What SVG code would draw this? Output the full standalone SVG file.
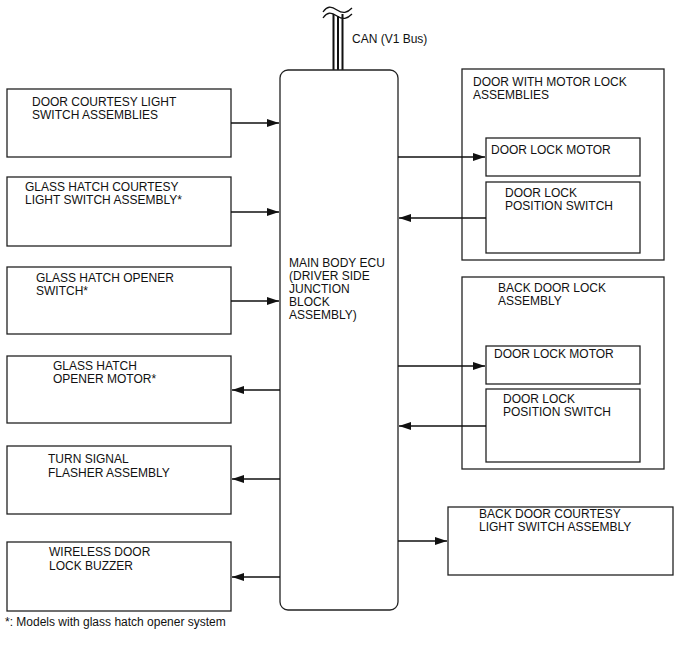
<svg xmlns="http://www.w3.org/2000/svg" width="688" height="658" viewBox="0 0 688 658">
<style>
  .box { fill: #fff; stroke: #222; stroke-width: 1.3; }
  .t { font-family: "Liberation Sans", Arial, sans-serif; font-size: 12px; fill: #111; }
  .c { stroke: #111; stroke-width: 1.3; fill: none; }
  .bus { stroke: #111; stroke-width: 2; fill: none; }
</style>
<defs>
  <marker id="ah" viewBox="0 0 12 8" refX="12" refY="4" markerWidth="12" markerHeight="8" markerUnits="userSpaceOnUse" orient="auto">
    <path d="M0,0 L12,4 L0,8 Z" fill="#111"/>
  </marker>
</defs>
<rect width="688" height="658" fill="#fff"/>

<g id="can-bus">
  <path class="bus" d="M333.5,14 V70 M338,16 V70 M342.5,14 V70"/>
  <path class="c" d="M323,12 C327,6 331,6 337,10 C343,14 347,13 352,8"/>
  <path class="c" d="M323,18 C327,12 331,12 337,16 C343,20 347,19 352,14"/>
  <text class="t" x="352" y="43">CAN (V1 Bus)</text>
</g>

<g id="main-ecu">
  <rect class="box" x="280" y="70" width="118" height="540" rx="8"/>
  <text class="t" x="289" y="267">MAIN BODY ECU</text>
  <text class="t" x="289" y="280">(DRIVER SIDE</text>
  <text class="t" x="289" y="293">JUNCTION</text>
  <text class="t" x="289" y="306">BLOCK</text>
  <text class="t" x="289" y="319">ASSEMBLY)</text>
</g>

<g id="door-courtesy">
  <rect class="box" x="7" y="89" width="224" height="68"/>
  <text class="t" x="32" y="106">DOOR COURTESY LIGHT</text>
  <text class="t" x="32" y="119">SWITCH ASSEMBLIES</text>
</g>
<g id="glass-hatch-courtesy">
  <rect class="box" x="7" y="177" width="224" height="69"/>
  <text class="t" x="25" y="191">GLASS HATCH COURTESY</text>
  <text class="t" x="25" y="204">LIGHT SWITCH ASSEMBLY*</text>
</g>
<g id="glass-hatch-opener-switch">
  <rect class="box" x="7" y="267" width="224" height="67"/>
  <text class="t" x="36" y="282">GLASS HATCH OPENER</text>
  <text class="t" x="36" y="295">SWITCH*</text>
</g>
<g id="glass-hatch-opener-motor">
  <rect class="box" x="7" y="356" width="224" height="67"/>
  <text class="t" x="53" y="370">GLASS HATCH</text>
  <text class="t" x="53" y="383">OPENER MOTOR*</text>
</g>
<g id="turn-signal">
  <rect class="box" x="7" y="446" width="224" height="68"/>
  <text class="t" x="48" y="463">TURN SIGNAL</text>
  <text class="t" x="48" y="477">FLASHER ASSEMBLY</text>
</g>
<g id="wireless-buzzer">
  <rect class="box" x="7" y="542" width="224" height="69"/>
  <text class="t" x="49" y="556">WIRELESS DOOR</text>
  <text class="t" x="49" y="570">LOCK BUZZER</text>
</g>

<g id="door-motor-lock">
  <rect class="box" x="462" y="69" width="202" height="191"/>
  <text class="t" x="473" y="86">DOOR WITH MOTOR LOCK</text>
  <text class="t" x="473" y="99">ASSEMBLIES</text>
  <g id="door-lock-motor-1">
    <rect class="box" x="486" y="138" width="154" height="38"/>
    <text class="t" x="491" y="154">DOOR LOCK MOTOR</text>
  </g>
  <g id="door-lock-switch-1">
    <rect class="box" x="486" y="182" width="154" height="71"/>
    <text class="t" x="505" y="197">DOOR LOCK</text>
    <text class="t" x="505" y="210">POSITION SWITCH</text>
  </g>
</g>

<g id="back-door-lock">
  <rect class="box" x="462" y="277" width="202" height="192"/>
  <text class="t" x="498" y="292">BACK DOOR LOCK</text>
  <text class="t" x="498" y="305">ASSEMBLY</text>
  <g id="door-lock-motor-2">
    <rect class="box" x="486" y="346" width="154" height="38"/>
    <text class="t" x="494" y="358">DOOR LOCK MOTOR</text>
  </g>
  <g id="door-lock-switch-2">
    <rect class="box" x="486" y="389" width="154" height="73"/>
    <text class="t" x="503" y="403">DOOR LOCK</text>
    <text class="t" x="503" y="416">POSITION SWITCH</text>
  </g>
</g>

<g id="back-door-courtesy">
  <rect class="box" x="448" y="507" width="225" height="68"/>
  <text class="t" x="479" y="518">BACK DOOR COURTESY</text>
  <text class="t" x="479" y="531">LIGHT SWITCH ASSEMBLY</text>
</g>

<g id="connectors">
  <line class="c" x1="231" y1="123" x2="279" y2="123" marker-end="url(#ah)"/>
  <line class="c" x1="231" y1="212" x2="279" y2="212" marker-end="url(#ah)"/>
  <line class="c" x1="231" y1="301" x2="279" y2="301" marker-end="url(#ah)"/>
  <line class="c" x1="280" y1="390" x2="232" y2="390" marker-end="url(#ah)"/>
  <line class="c" x1="280" y1="479" x2="232" y2="479" marker-end="url(#ah)"/>
  <line class="c" x1="280" y1="577" x2="232" y2="577" marker-end="url(#ah)"/>
  <line class="c" x1="398" y1="157" x2="485" y2="157" marker-end="url(#ah)"/>
  <line class="c" x1="486" y1="218" x2="399" y2="218" marker-end="url(#ah)"/>
  <line class="c" x1="398" y1="366" x2="485" y2="366" marker-end="url(#ah)"/>
  <line class="c" x1="486" y1="426" x2="399" y2="426" marker-end="url(#ah)"/>
  <line class="c" x1="398" y1="541" x2="447" y2="541" marker-end="url(#ah)"/>
</g>

<text class="t" x="5" y="626">*: Models with glass hatch opener system</text>
</svg>
